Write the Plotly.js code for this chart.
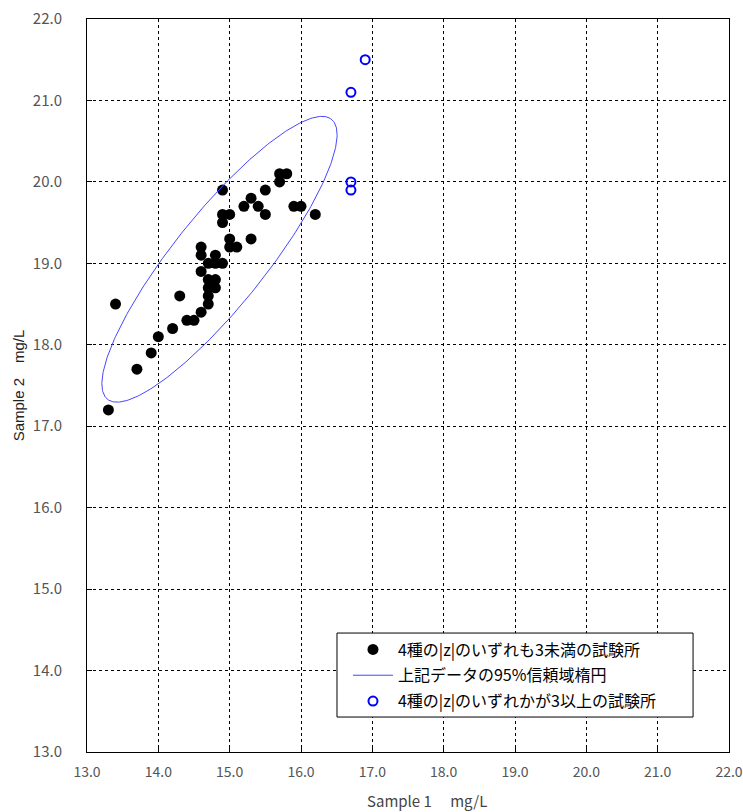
<!DOCTYPE html>
<html>
<head>
<meta charset="utf-8">
<script src="https://cdn.plot.ly/plotly-3.0.1.min.js"></script>
<style>html,body{margin:0;padding:0;background:#fff;}#chart{width:743px;height:812px;}</style>
</head>
<body>
<div id="chart"></div>
<script>
// Labs with all four |z| < 3
const inX = [13.3,13.4,13.7,13.9,14.0,14.2,14.3,14.4,14.5,14.6,14.6,14.6,14.6,14.7,14.7,14.7,14.7,14.7,14.8,14.8,14.8,14.8,14.9,14.9,14.9,14.9,15.0,15.0,15.0,15.1,15.2,15.3,15.3,15.4,15.5,15.5,15.7,15.7,15.8,15.9,16.0,16.2];
const inY = [17.2,18.5,17.7,17.9,18.1,18.2,18.6,18.3,18.3,18.4,18.9,19.1,19.2,18.5,18.6,18.7,18.8,19.0,18.7,18.8,19.0,19.1,19.0,19.5,19.6,19.9,19.2,19.3,19.6,19.2,19.7,19.3,19.8,19.7,19.6,19.9,20.0,20.1,20.1,19.7,19.7,19.6];
// Labs with any |z| >= 3
const outX = [16.9,16.7,16.7,16.7];
const outY = [21.5,21.1,20.0,19.9];
const legendNames = ['4種の|z|のいずれも3未満の試験所','上記データの95%信頼域楕円','4種の|z|のいずれかが3以上の試験所'];
const xTitle = 'Sample 1　 mg/L';
const yTitle = 'Sample 2　mg/L';
const ellipseScale = 6.45; // squared radius for the 95% region

// Confidence ellipse derived from the in-range data
const n = inX.length;
const mx = inX.reduce((a,b)=>a+b,0)/n;
const my = inY.reduce((a,b)=>a+b,0)/n;
let sxx=0, syy=0, sxy=0;
for (let i=0;i<n;i++){ const dx=inX[i]-mx, dy=inY[i]-my; sxx+=dx*dx; syy+=dy*dy; sxy+=dx*dy; }
sxx/=(n-1); syy/=(n-1); sxy/=(n-1);
const a = Math.sqrt(sxx), b = sxy/a, d = Math.sqrt(syy - b*b), r = Math.sqrt(ellipseScale);
const ex=[], ey=[];
for (let k=0;k<=360;k++){ const t=k*Math.PI/180; ex.push(mx + r*a*Math.cos(t)); ey.push(my + r*(b*Math.cos(t)+d*Math.sin(t))); }

const font = 'Noto Sans CJK JP, sans-serif';
const traces = [
  {x: inX, y: inY, type:'scatter', mode:'markers', name: legendNames[0], legendgroup:'g1',
   marker:{color:'#000', size:11, line:{width:0}}},
  {x: ex, y: ey, type:'scatter', mode:'lines', name: legendNames[1], legendgroup:'g2',
   line:{color:'#4646ff', width:1}},
  {x: outX, y: outY, type:'scatter', mode:'markers', name: legendNames[2], legendgroup:'g3',
   marker:{color:'#0000ff', size:9, symbol:'circle-open', line:{color:'#0000ff', width:2}}}
];
const axisCommon = {
  range:[13,22], dtick:1, tick0:13, tickformat:'.1f', showline:true, mirror:true, linecolor:'#000', linewidth:1,
  showgrid:true, gridcolor:'#000', gridwidth:1, griddash:'dot', zeroline:false,
  ticks:'inside', ticklen:5, tickcolor:'#000'
};
const layout = {
  width:743, height:812,
  margin:{l:87, r:14, t:19, b:60},
  paper_bgcolor:'#fff', plot_bgcolor:'#fff',
  showlegend:true,
  xaxis: Object.assign({}, axisCommon, {ticklabelstandoff:7, tickfont:{family:font, size:14, color:'#555'}}),
  yaxis: Object.assign({}, axisCommon, {ticklabelstandoff:21, tickfont:{family:font, size:15, color:'#555'},
    title:{text:yTitle, font:{family:'Liberation Sans, Arial, sans-serif', size:15, color:'#222'}, standoff:4}}),
  annotations:[{text:xTitle, xref:'paper', yref:'paper', x:0.53, y:-0.0655, xanchor:'center', yanchor:'middle',
    showarrow:false, font:{family:font, size:15, color:'#444'}}],
  shapes:[{type:'rect', xref:'paper', yref:'paper', x0:0.3894, x1:0.944, y0:0.0477, y1:0.1623,
    fillcolor:'#fff', line:{color:'#000', width:1}, layer:'above'}],
  legend:{x:0.4065, y:0.163, xanchor:'left', yanchor:'top', bgcolor:'rgba(0,0,0,0)', borderwidth:0,
    font:{family:font, size:16, color:'#000'}, tracegroupgap:2, itemwidth:40},
};
Plotly.newPlot('chart', traces, layout, {displayModeBar:false, staticPlot:true});
</script>
</body>
</html>
